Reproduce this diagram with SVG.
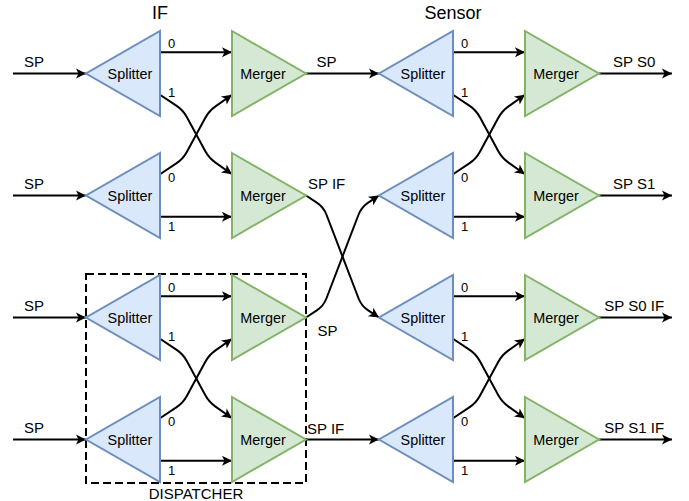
<svg xmlns="http://www.w3.org/2000/svg" width="689" height="501" viewBox="0 0 689 501">
<style>
text{font-family:"Liberation Sans",Arial,Helvetica,sans-serif;fill:#000}
.spl{fill:#dae8fc;stroke:#6c8ebf;stroke-width:2}
.mrg{fill:#d5e8d4;stroke:#82b366;stroke-width:2}
.nl{font-size:14.4px;text-anchor:middle}
.el{font-size:15px}
.pl{font-size:13px}
.ttl{font-size:18px;text-anchor:middle}
.e{fill:none;stroke:#000;stroke-width:2;marker-end:url(#arr)}
.el2{fill:none;stroke:#000;stroke-width:2}
</style>
<defs>
<marker id="arr" viewBox="-11 -6 12 12" refX="0" refY="0" markerWidth="12" markerHeight="12" markerUnits="userSpaceOnUse" orient="auto">
<path d="M0,0 L-10,-5 L-7.5,0 L-10,5 Z" fill="#000"/>
</marker>
</defs>
<rect width="689" height="501" fill="#fff"/>

<g id="titles">
<text class="ttl" x="160" y="19">IF</text>
<text class="ttl" x="453" y="19">Sensor</text>
</g>

<g id="dispatcher">
<rect x="86" y="274" width="220" height="209" fill="none" stroke="#000" stroke-width="2" stroke-dasharray="8 4"/>
<text class="el" x="196" y="499" text-anchor="middle">DISPATCHER</text>
</g>

<g id="connectors">
<!-- inputs -->
<path class="e" d="M13,73.5 L86,73.5"/>
<path class="e" d="M13,195.5 L86,195.5"/>
<path class="e" d="M13,317.5 L86,317.5"/>
<path class="e" d="M13,439.5 L86,439.5"/>
<!-- IF column rows 1-2 -->
<path class="e" d="M160,52.25 L232,52.25"/>
<path class="e" d="M160,216.75 L232,216.75"/>
<path class="e" d="M160,94.75 L176.3,105.6 Q183,110 186.8,117 L205.2,151 Q209,158 215.5,162.6 L232,174.25"/>
<path class="e" d="M160,174.25 L176.3,163.4 Q183,159 186.8,152 L205.2,118 Q209,111 215.5,106.4 L232,94.75"/>
<!-- IF column rows 3-4 -->
<g transform="translate(0,244)">
<path class="e" d="M160,52.25 L232,52.25"/>
<path class="e" d="M160,216.75 L232,216.75"/>
<path class="e" d="M160,94.75 L176.3,105.6 Q183,110 186.8,117 L205.2,151 Q209,158 215.5,162.6 L232,174.25"/>
<path class="e" d="M160,174.25 L176.3,163.4 Q183,159 186.8,152 L205.2,118 Q209,111 215.5,106.4 L232,94.75"/>
</g>
<!-- Sensor column rows 1-2 -->
<g transform="translate(293,0)">
<path class="e" d="M160,52.25 L232,52.25"/>
<path class="e" d="M160,216.75 L232,216.75"/>
<path class="e" d="M160,94.75 L176.3,105.6 Q183,110 186.8,117 L205.2,151 Q209,158 215.5,162.6 L232,174.25"/>
<path class="e" d="M160,174.25 L176.3,163.4 Q183,159 186.8,152 L205.2,118 Q209,111 215.5,106.4 L232,94.75"/>
</g>
<!-- Sensor column rows 3-4 -->
<g transform="translate(293,244)">
<path class="e" d="M160,52.25 L232,52.25"/>
<path class="e" d="M160,216.75 L232,216.75"/>
<path class="e" d="M160,94.75 L176.3,105.6 Q183,110 186.8,117 L205.2,151 Q209,158 215.5,162.6 L232,174.25"/>
<path class="e" d="M160,174.25 L176.3,163.4 Q183,159 186.8,152 L205.2,118 Q209,111 215.5,106.4 L232,94.75"/>
</g>
<!-- between columns -->
<path class="e" d="M306,73.5 L379,73.5"/>
<path class="e" d="M306,439.5 L379,439.5"/>
<path class="e" d="M306,195.5 L316.8,202.6 Q323.5,207 326.4,214.5 L358.6,298.5 Q361.5,306 368.2,310.4 L379,317.5"/>
<path class="e" d="M306,317.5 L316.8,310.4 Q323.5,306 326.4,298.5 L358.6,214.5 Q361.5,207 368.2,202.6 L379,195.5"/>
<!-- outputs -->
<path class="e" d="M599,73.5 L672,73.5"/>
<path class="e" d="M599,195.5 L672,195.5"/>
<path class="e" d="M599,317.5 L672,317.5"/>
<path class="e" d="M599,439.5 L672,439.5"/>
</g>

<g id="connector-labels">
<text class="el" x="24" y="66.7">SP</text>
<text class="el" x="24" y="188.5">SP</text>
<text class="el" x="24" y="311">SP</text>
<text class="el" x="24" y="433.3">SP</text>
<text class="el" x="316.5" y="66.7">SP</text>
<text class="el" x="308" y="188.5">SP IF</text>
<text class="el" x="317.5" y="336">SP</text>
<text class="el" x="307" y="433.5">SP IF</text>
<text class="el" x="613" y="66.7">SP S0</text>
<text class="el" x="613" y="188.5">SP S1</text>
<text class="el" x="604.3" y="310.7">SP S0 IF</text>
<text class="el" x="604.3" y="432.7">SP S1 IF</text>
<!-- port labels -->
<g class="pl">
<text class="pl" x="168" y="47.7">0</text>
<text class="pl" x="168" y="96.7">1</text>
<text class="pl" x="168" y="181.7">0</text>
<text class="pl" x="168" y="230.7">1</text>
<text class="pl" x="168" y="291.7">0</text>
<text class="pl" x="168" y="340.7">1</text>
<text class="pl" x="168" y="425.7">0</text>
<text class="pl" x="168" y="474.7">1</text>
<text class="pl" x="461" y="47.7">0</text>
<text class="pl" x="461" y="96.7">1</text>
<text class="pl" x="461" y="181.7">0</text>
<text class="pl" x="461" y="230.7">1</text>
<text class="pl" x="461" y="291.7">0</text>
<text class="pl" x="461" y="340.7">1</text>
<text class="pl" x="461" y="425.7">0</text>
<text class="pl" x="461" y="474.7">1</text>
</g>
</g>

<g id="if-splitter-1"><polygon class="spl" points="160,31 160,116 86,73.5"/><text class="nl" x="130" y="78.7">Splitter</text></g>
<g id="if-splitter-2"><polygon class="spl" points="160,153 160,238 86,195.5"/><text class="nl" x="130" y="200.7">Splitter</text></g>
<g id="if-splitter-3"><polygon class="spl" points="160,275 160,360 86,317.5"/><text class="nl" x="130" y="322.7">Splitter</text></g>
<g id="if-splitter-4"><polygon class="spl" points="160,397 160,482 86,439.5"/><text class="nl" x="130" y="444.7">Splitter</text></g>
<g id="if-merger-1"><polygon class="mrg" points="232,31 306,73.5 232,116"/><text class="nl" x="263" y="78.7">Merger</text></g>
<g id="if-merger-2"><polygon class="mrg" points="232,153 306,195.5 232,238"/><text class="nl" x="263" y="200.7">Merger</text></g>
<g id="if-merger-3"><polygon class="mrg" points="232,275 306,317.5 232,360"/><text class="nl" x="263" y="322.7">Merger</text></g>
<g id="if-merger-4"><polygon class="mrg" points="232,397 306,439.5 232,482"/><text class="nl" x="263" y="444.7">Merger</text></g>
<g id="sensor-splitter-1"><polygon class="spl" points="453,31 453,116 379,73.5"/><text class="nl" x="423" y="78.7">Splitter</text></g>
<g id="sensor-splitter-2"><polygon class="spl" points="453,153 453,238 379,195.5"/><text class="nl" x="423" y="200.7">Splitter</text></g>
<g id="sensor-splitter-3"><polygon class="spl" points="453,275 453,360 379,317.5"/><text class="nl" x="423" y="322.7">Splitter</text></g>
<g id="sensor-splitter-4"><polygon class="spl" points="453,397 453,482 379,439.5"/><text class="nl" x="423" y="444.7">Splitter</text></g>
<g id="sensor-merger-1"><polygon class="mrg" points="525,31 599,73.5 525,116"/><text class="nl" x="556" y="78.7">Merger</text></g>
<g id="sensor-merger-2"><polygon class="mrg" points="525,153 599,195.5 525,238"/><text class="nl" x="556" y="200.7">Merger</text></g>
<g id="sensor-merger-3"><polygon class="mrg" points="525,275 599,317.5 525,360"/><text class="nl" x="556" y="322.7">Merger</text></g>
<g id="sensor-merger-4"><polygon class="mrg" points="525,397 599,439.5 525,482"/><text class="nl" x="556" y="444.7">Merger</text></g>
</svg>
